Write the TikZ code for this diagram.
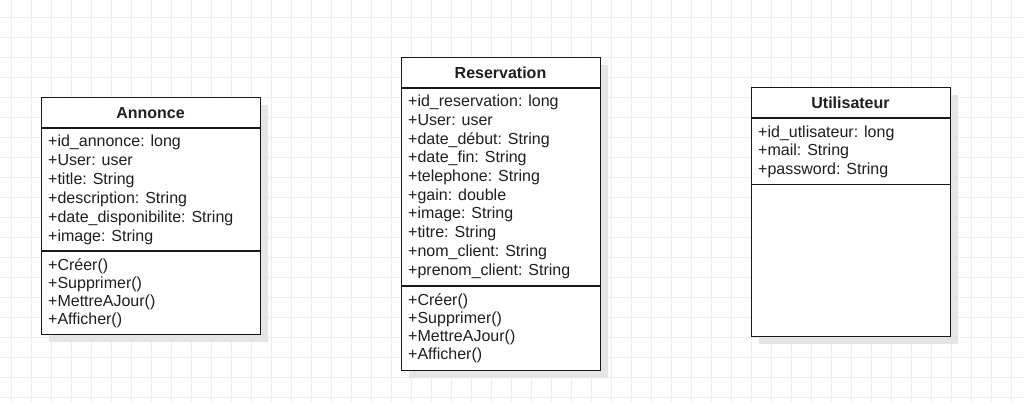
\documentclass[tikz,border=0pt]{standalone}
\usepackage{fontspec}
\setmainfont{Liberation Sans}
\usetikzlibrary{shadows}

\tikzset{
  classbox/.style={draw=black!90, line width=1.1pt, fill=white, anchor=north west,
    inner sep=0pt, drop shadow={shadow xshift=7pt, shadow yshift=-7pt, fill=black!10, opacity=1}},
  classname/.style={anchor=base, inner sep=0pt, text=black!88,
    font=\fontsize{16}{19}\selectfont\bfseries},
  member/.style={anchor=base west, inner sep=0pt, text=black!88,
    font=\fontsize{16}{19}\selectfont},
  divider/.style={draw=black!90, line width=1.1pt},
}

\begin{document}
\begin{tikzpicture}[x=1pt,y=-1pt]
        \useasboundingbox (0,0) rectangle (1024,402);
        % background grid
        \foreach \gx in {11,31,...,1011}
            \draw[black!7, line width=0.8pt] (\gx,0) -- (\gx,402);
        \foreach \gy in {17,37,...,397}
            \draw[black!7, line width=0.8pt] (0,\gy) -- (1024,\gy);

        % Annonce
        \node[classbox, minimum width=219pt, minimum height=237pt] at (41,97) (ann){};
        \node[classname] at (150.5,118) (annT){Annonce};
        \draw[divider] ([yshift=-31pt]ann.north west) -- ([yshift=-31pt]ann.north east);
        \draw[divider] ([yshift=-154pt]ann.north west) -- ([yshift=-154pt]ann.north east);
        \foreach \t [count=\i from 0] in {+id\_annonce: long, +User: user, +title: String,
            +description: String, +date\_disponibilite: String, +image: String}
            \node[member] at (48,{146.5+18.9*\i}) (annA\i){\t};
        \foreach \t [count=\i from 0] in {+Créer(), +Supprimer(), +MettreAJour(), +Afficher()}
            \node[member] at (48,{270+18.3*\i}) (annM\i){\t};

        % Reservation
        \node[classbox, minimum width=199pt, minimum height=313pt] at (401,57) (res){};
        \node[classname] at (500.5,78) (resT){Reservation};
        \draw[divider] ([yshift=-31pt]res.north west) -- ([yshift=-31pt]res.north east);
        \draw[divider] ([yshift=-229pt]res.north west) -- ([yshift=-229pt]res.north east);
        \foreach \t [count=\i from 0] in {+id\_reservation: long, +User: user, +date\_début: String,
            +date\_fin: String, +telephone: String, +gain: double, +image: String,
            +titre: String, +nom\_client: String, +prenom\_client: String}
            \node[member] at (408,{106.7+18.7*\i}) (resA\i){\t};
        \foreach \t [count=\i from 0] in {+Créer(), +Supprimer(), +MettreAJour(), +Afficher()}
            \node[member] at (408,{305+18.2*\i}) (resM\i){\t};

        % Utilisateur
        \node[classbox, minimum width=199pt, minimum height=249pt] at (751,87) (usr){};
        \node[classname] at (850.5,108) (usrT){Utilisateur};
        \draw[divider] ([yshift=-31pt]usr.north west) -- ([yshift=-31pt]usr.north east);
        \draw[divider] ([yshift=-97.5pt]usr.north west) -- ([yshift=-97.5pt]usr.north east);
        \foreach \t [count=\i from 0] in {+id\_utlisateur: long, +mail: String, +password: String}
            \node[member] at (758,{137+18.7*\i}) (usrA\i){\t};
\end{tikzpicture}
\end{document}
